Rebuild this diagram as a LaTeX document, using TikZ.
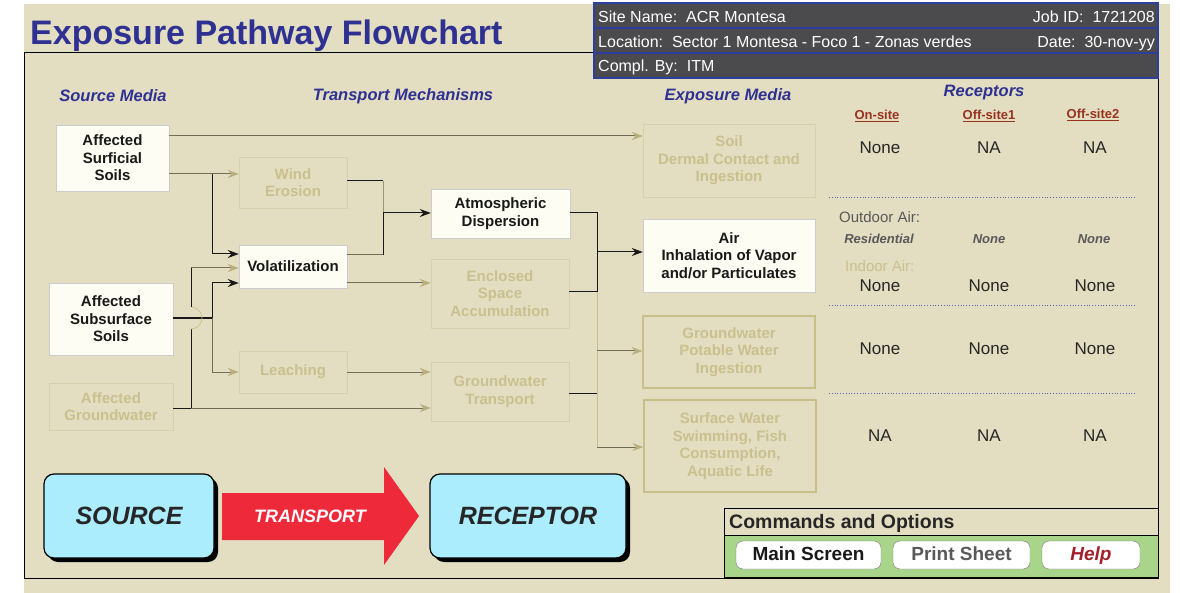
\documentclass[tikz,border=0pt]{standalone}
\usepackage{fontspec}
\setmainfont{Liberation Sans}
\usetikzlibrary{arrows.meta,shadows}

\definecolor{bgBeige}{HTML}{E3DEC1}
\definecolor{titleBlue}{HTML}{2E3192}
\definecolor{hdrGray}{HTML}{4B4B4D}
\definecolor{hdrBlue}{HTML}{2C3E9E}
\definecolor{cream}{HTML}{FDFDF4}
\definecolor{fadeText}{HTML}{C9C08E}
\definecolor{fadeEdge}{HTML}{D6D0AE}
\definecolor{tanEdge}{HTML}{C8BE87}
\definecolor{lineGray}{HTML}{736D58}
\definecolor{tipTan}{HTML}{B8AF7C}
\definecolor{darkRed}{HTML}{99331F}
\definecolor{boxCyan}{HTML}{ABEDFC}
\definecolor{arrowRed}{HTML}{EE2A3A}
\definecolor{cmdGreen}{HTML}{A9D58B}
\definecolor{helpRed}{HTML}{A3202A}

\tikzset{
  every node/.style={inner sep=0pt},
  boxfont/.style={font=\bfseries\fontsize{15}{17.5}\selectfont, align=center},
  actbox/.style={boxfont, draw=black!20, fill=cream, text=black!90},
  fadebox/.style={boxfont, draw=fadeEdge, text=fadeText},
  tanbox/.style={boxfont, draw=tanEdge, line width=1.2pt, text=fadeText},
  blkline/.style={draw=black!90, line width=1pt},
  gryline/.style={draw=lineGray, line width=1pt},
  tanline/.style={draw=tanEdge, line width=1pt},
  blkarrow/.style={blkline, -{Stealth[length=11pt,width=8pt]}},
  tanarrow/.style={gryline, -{Stealth[length=11pt,width=8pt,color=tipTan]}},
  heading/.style={font=\bfseries\itshape\fontsize{16.5}{20}\selectfont, text=titleBlue},
  subhead/.style={font=\bfseries\fontsize{13}{15}\selectfont, text=darkRed},
  cell/.style={font=\fontsize{17}{20}\selectfont, text=black!85},
  hdrrow/.style={draw=hdrBlue, line width=1.5pt, fill=hdrGray, minimum width=564, minimum height=25},
  hdrtext/.style={font=\fontsize{16}{19}\selectfont, text=white},
  bigbox/.style={draw=black, line width=1.2pt, fill=boxCyan, rounded corners=10,
    font=\bfseries\itshape\fontsize{25}{30}\selectfont, text=black!85,
    drop shadow={shadow xshift=4pt, shadow yshift=-4pt, fill=black, opacity=1}},
  button/.style={draw=black!55, fill=white, rounded corners=7, minimum height=28,
    text height=14, text depth=4, font=\bfseries\fontsize{19}{22}\selectfont},
  dotline/.style={draw=hdrBlue!80, line width=0.8pt, dotted}
}

\begin{document}
\begin{tikzpicture}[x=1pt, y=-1pt]
    \useasboundingbox (0,0) rectangle (1180,593);
    \fill[white] (0,0) rectangle (1180,593);
    \fill[bgBeige] (24,4) rectangle (1170,593);
    \draw[black, line width=1pt] (594,53) -- (24,53) -- (24,578) -- (1158,578) -- (1158,78);

    % title and header
    \node[anchor=base west, font=\bfseries\fontsize{34}{40}\selectfont, text=titleBlue] (Title) at (30,45) {Exposure Pathway Flowchart};
    \node[hdrrow] (HdrRow1) at (876,15.5) {};
    \node[hdrrow] (HdrRow2) at (876,40.5) {};
    \node[hdrrow] (HdrRow3) at (876,65.5) {};
    \node[hdrtext, anchor=base west] (SiteName) at (598,23) {Site Name:\ \ ACR Montesa};
    \node[hdrtext, anchor=base east] (JobID) at (1155,23) {Job ID:\ \ 1721208};
    \node[hdrtext, anchor=base west] (Location) at (598,48) {Location:\ \ Sector 1 Montesa - Foco 1 - Zonas verdes};
    \node[hdrtext, anchor=base east] (Date) at (1155,48) {Date:\ \ 30-nov-yy};
    \node[hdrtext, anchor=base west] (ComplBy) at (598,72) {Compl. By:\ \ ITM};

    % column headings
    \node[heading] (SourceMedia) at (113,96) {Source Media};
    \node[heading] (TransMech) at (403,96) {Transport Mechanisms};
    \node[heading] (ExpMedia) at (728,96) {Exposure Media};
    \node[heading] (Receptors) at (984,93) {Receptors};
    \node[subhead] (OnSite) at (877,116) {\underline{On-site}};
    \node[subhead] (OffSite1) at (989,116) {\underline{Off-site1}};
    \node[subhead] (OffSite2) at (1093,115) {\underline{Off-site2}};

    % source media
    \node[actbox, minimum width=113, minimum height=66] (SurfSoils) at (112.5,158) {Affected\\Surficial\\Soils};
    \node[actbox, minimum width=124, minimum height=72] (SubSoils) at (111,319) {Affected\\Subsurface\\Soils};
    \node[fadebox, minimum width=124, minimum height=47] (GWater) at (111,406.5) {Affected\\Groundwater};

    % transport mechanisms
    \node[fadebox, minimum width=108, minimum height=51] (Wind) at (293,182.5) {Wind\\Erosion};
    \node[actbox, minimum width=108, minimum height=43] (Volat) at (293,266.5) {Volatilization};
    \node[fadebox, minimum width=108, minimum height=42] (Leach) at (293,372) {Leaching};
    \node[actbox, minimum width=139, minimum height=49] (AtmDisp) at (500.5,213.5) {Atmospheric\\Dispersion};
    \node[fadebox, minimum width=138, minimum height=69] (Enclosed) at (500,293.5) {Enclosed\\Space\\Accumulation};
    \node[fadebox, minimum width=138, minimum height=59] (GWTrans) at (500,391.5) {Groundwater\\Transport};

    % exposure media
    \node[fadebox, minimum width=172, minimum height=73] (SoilExp) at (729,160.5) {Soil\\Dermal Contact and\\Ingestion};
    \node[actbox, minimum width=172, minimum height=73] (AirExp) at (729,255.5) {Air\\Inhalation of Vapor\\and/or Particulates};
    \node[tanbox, minimum width=172, minimum height=72] (GWExp) at (729,352) {Groundwater\\Potable Water\\Ingestion};
    \node[tanbox, minimum width=172, minimum height=92] (SWExp) at (730,446) {Surface Water\\Swimming, Fish\\Consumption,\\Aquatic Life};

    % junctions
    \coordinate (sA) at (212,174);
    \coordinate (sB) at (212,254);
    \coordinate (sC) at (212,318);
    \coordinate (sD) at (212,283);
    \coordinate (sE) at (212,372);
    \coordinate (gA) at (191,408);
    \coordinate (gB) at (191,268);
    \coordinate (wA) at (383,181);
    \coordinate (wM) at (383,213);
    \coordinate (wB) at (383,255);
    \coordinate (aA) at (597,213);
    \coordinate (aD) at (597,252);
    \coordinate (aB) at (597,292);
    \coordinate (aE) at (597,351);
    \coordinate (aC) at (597,393);
    \coordinate (aF) at (597,447);
    \coordinate (cSoil) at (597,136);

    % connectors from source media
    \draw[tanarrow] (SurfSoils.east |- cSoil) -- (SoilExp.west |- cSoil);
    \draw[gryline] (SurfSoils.east |- sA) -- (sA);
    \draw[tanarrow] (sA) -- (Wind.west |- sA);
    \draw[blkline] (sA) -- (sB);
    \draw[blkarrow] (sB) -- (Volat.west |- sB);
    \draw[blkline, line width=2pt] (SubSoils.east |- sC) -- (sC);
    \draw[blkline] (sC) -- (sD);
    \draw[blkarrow] (sD) -- (Volat.west |- sD);
    \draw[gryline] (sC) -- (sE);
    \draw[tanarrow] (sE) -- (Leach.west);
    \draw[blkline] (GWater.east |- gA) -- (gA);
    \draw[tanarrow] (gA) -- (GWTrans.west |- gA);
    \draw[blkline] (gA) -- (191,329);
    \draw[tanline, line width=0.6pt] (191,329) arc[start angle=90, end angle=-90, radius=11];
    \draw[blkline] (191,307) -- (gB);
    \draw[tanarrow] (gB) -- (Volat.west |- gB);

    % connectors from transport mechanisms
    \draw[blkline] (Wind.east |- wA) -- (wA);
    \draw[tanline, draw=tanEdge!80!black] (wA) -- (wM);
    \draw[blkline] (wM) -- (wB);
    \draw[gryline] (Volat.east |- wB) -- (wB);
    \draw[blkarrow] (wM) -- (AtmDisp.west |- wM);
    \draw[tanarrow] (Volat.east |- sD) -- (Enclosed.west |- sD);
    \draw[tanarrow] (Leach.east) -- (GWTrans.west |- Leach.east);
    \draw[blkline] (AtmDisp.east |- aA) -- (aA) -- (aB);
    \draw[blkline] (Enclosed.east |- aB) -- (aB);
    \draw[blkline] (GWTrans.east |- aC) -- (aC);
    \draw[tanline] (aB) -- (aF);
    \draw[blkarrow] (aD) -- (AirExp.west |- aD);
    \draw[tanarrow] (aE) -- (GWExp.west |- aE);
    \draw[tanarrow] (aF) -- (SWExp.west |- aF);

    % receptors table
    \node[cell] (R1On) at (880,148) {None};
    \node[cell] (R1Off1) at (989,148) {NA};
    \node[cell] (R1Off2) at (1095,148) {NA};
    \draw[dotline] (829,197) -- (1137,197);
    \node[anchor=west, font=\fontsize{15}{18}\selectfont, text=black!65] (Outdoor) at (839,217) {Outdoor Air:};
    \node[font=\bfseries\itshape\fontsize{13}{15}\selectfont, text=black!65] (R2On) at (879,239) {Residential};
    \node[font=\bfseries\itshape\fontsize{13}{15}\selectfont, text=black!65] (R2Off1) at (989,239) {None};
    \node[font=\bfseries\itshape\fontsize{13}{15}\selectfont, text=black!65] (R2Off2) at (1094,239) {None};
    \node[anchor=west, font=\fontsize{15}{18}\selectfont, text=fadeText] (Indoor) at (845,266) {Indoor Air:};
    \node[cell] (R3On) at (880,286) {None};
    \node[cell] (R3Off1) at (989,286) {None};
    \node[cell] (R3Off2) at (1095,286) {None};
    \draw[dotline] (829,305) -- (1137,305);
    \node[cell] (R4On) at (880,349) {None};
    \node[cell] (R4Off1) at (989,349) {None};
    \node[cell] (R4Off2) at (1095,349) {None};
    \draw[dotline] (829,393) -- (1137,393);
    \node[cell] (R5On) at (880,436) {NA};
    \node[cell] (R5Off1) at (989,436) {NA};
    \node[cell] (R5Off2) at (1095,436) {NA};

    % source - transport - receptor
    \node[bigbox, minimum width=170, minimum height=84] (Source) at (129,516) {SOURCE};
    \node[bigbox, minimum width=196, minimum height=84] (Receptor) at (528,516) {RECEPTOR};
    \fill[arrowRed] (222,493) -- (384,493) -- (384,467) -- (419,516) -- (384,565) -- (384,540) -- (222,540) -- cycle;
    \node[font=\bfseries\itshape\fontsize{18}{22}\selectfont, text=white] (Transport) at (310,516) {TRANSPORT};

    % commands and options
    \node[draw=black, line width=1pt, minimum width=434, minimum height=27, anchor=north west] (CmdHead) at (724,508) {};
    \node[draw=black, line width=1pt, fill=cmdGreen, minimum width=434, minimum height=42, anchor=north west] (CmdBar) at (724,535) {};
    \node[anchor=west, font=\bfseries\fontsize{19.5}{23}\selectfont, text=black!85] (CmdTitle) at (729,523) {Commands and Options};
    \node[button, minimum width=145, text=black!90] (MainScreen) at (808.5,555) {Main Screen};
    \node[button, minimum width=137, text=black!65] (PrintSheet) at (961.5,555) {Print Sheet};
    \node[button, minimum width=98, text=helpRed, font=\bfseries\itshape\fontsize{19}{22}\selectfont] (Help) at (1091,555) {Help};
\end{tikzpicture}
\end{document}
